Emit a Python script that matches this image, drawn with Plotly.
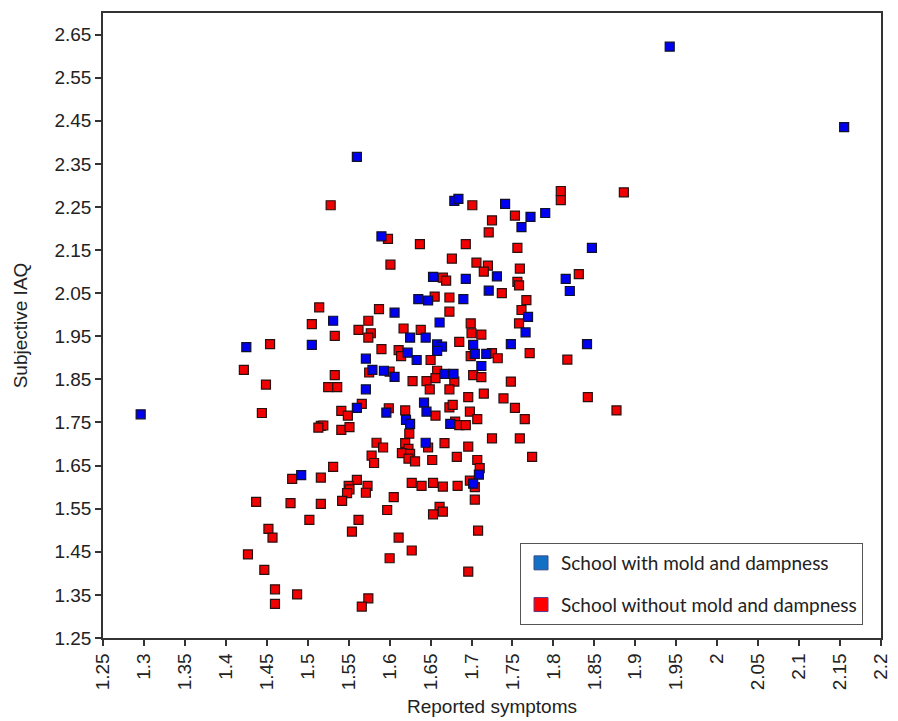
import plotly.graph_objects as go

# School with mold and dampness (blue)
mold_x = [1.942, 2.155, 1.790, 1.847, 1.815, 1.820, 1.841,
          1.560, 1.679, 1.684, 1.741, 1.772, 1.761, 1.590, 1.653, 1.693, 1.731, 1.721, 1.635, 1.647, 1.690,
          1.606, 1.769, 1.531, 1.661, 1.625, 1.644, 1.766, 1.505, 1.658, 1.664, 1.658, 1.702, 1.748, 1.622,
          1.633, 1.704, 1.718, 1.571, 1.712, 1.579, 1.593, 1.606, 1.667, 1.678, 1.571, 1.560, 1.596, 1.642,
          1.645, 1.620, 1.625, 1.674, 1.644,
          1.425, 1.296, 1.492, 1.709, 1.702]
mold_y = [2.622, 2.435, 2.236, 2.155, 2.083, 2.055, 1.932,
          2.366, 2.264, 2.269, 2.257, 2.227, 2.203, 2.182, 2.088, 2.083, 2.089, 2.056, 2.036, 2.033, 2.036,
          2.005, 1.995, 1.986, 1.982, 1.947, 1.947, 1.959, 1.930, 1.931, 1.926, 1.916, 1.930, 1.932, 1.912,
          1.895, 1.909, 1.909, 1.898, 1.881, 1.872, 1.870, 1.856, 1.863, 1.863, 1.827, 1.784, 1.773, 1.796,
          1.775, 1.756, 1.747, 1.747, 1.703,
          1.925, 1.769, 1.628, 1.629, 1.608]

# School without mold and dampness (red)
nomold_x = [1.809, 1.809, 1.886, 1.831, 1.817, 1.842, 1.877,
            1.528, 1.701, 1.725, 1.753, 1.721, 1.598, 1.637, 1.693, 1.756, 1.601, 1.676, 1.706, 1.720, 1.715,
            1.759, 1.665, 1.669, 1.756, 1.758, 1.737, 1.767, 1.655, 1.673,
            1.514, 1.587, 1.673, 1.761, 1.505, 1.574, 1.699, 1.758, 1.562, 1.577, 1.574, 1.617, 1.638, 1.533,
            1.700, 1.712, 1.685, 1.590, 1.611, 1.614, 1.650, 1.699, 1.725, 1.732, 1.771,
            1.533, 1.575, 1.600, 1.658, 1.656, 1.645, 1.628, 1.679, 1.702, 1.712, 1.748, 1.525, 1.536, 1.649,
            1.673, 1.696, 1.715, 1.739,
            1.566, 1.541, 1.549, 1.599, 1.619, 1.656, 1.673, 1.677, 1.698, 1.707, 1.753, 1.765, 1.516, 1.519,
            1.513, 1.541, 1.551, 1.680, 1.685, 1.693, 1.624, 1.584, 1.592, 1.619, 1.623, 1.647, 1.667, 1.696,
            1.725, 1.759,
            1.578, 1.615, 1.625, 1.623, 1.631, 1.652, 1.682, 1.707, 1.774,
            1.454, 1.422, 1.449, 1.444,
            1.581, 1.531, 1.516, 1.481, 1.710, 1.698, 1.704, 1.704, 1.708, 1.696, 1.560, 1.550, 1.551, 1.548,
            1.542, 1.573, 1.571, 1.605, 1.597, 1.627, 1.639, 1.653, 1.665, 1.683, 1.661, 1.653, 1.665, 1.516,
            1.502, 1.562, 1.554, 1.611, 1.627, 1.600, 1.574, 1.566,
            1.437, 1.479, 1.452, 1.457, 1.427, 1.447, 1.460, 1.487, 1.460]
nomold_y = [2.287, 2.266, 2.284, 2.094, 1.896, 1.809, 1.778,
            2.254, 2.254, 2.219, 2.230, 2.191, 2.176, 2.164, 2.164, 2.155, 2.116, 2.130, 2.121, 2.114, 2.100,
            2.107, 2.086, 2.079, 2.076, 2.068, 2.050, 2.034, 2.042, 2.040,
            2.017, 2.013, 2.007, 2.011, 1.978, 1.986, 1.980, 1.980, 1.965, 1.957, 1.947, 1.968, 1.965, 1.951,
            1.957, 1.954, 1.937, 1.920, 1.918, 1.904, 1.895, 1.904, 1.911, 1.899, 1.911,
            1.860, 1.866, 1.868, 1.870, 1.853, 1.846, 1.846, 1.845, 1.860, 1.855, 1.845, 1.832, 1.832, 1.827,
            1.827, 1.809, 1.817, 1.806,
            1.793, 1.777, 1.766, 1.783, 1.778, 1.766, 1.785, 1.791, 1.775, 1.758, 1.784, 1.758, 1.742, 1.743,
            1.738, 1.733, 1.739, 1.752, 1.744, 1.744, 1.724, 1.703, 1.692, 1.702, 1.689, 1.692, 1.702, 1.694,
            1.713, 1.713,
            1.673, 1.679, 1.677, 1.666, 1.660, 1.663, 1.670, 1.663, 1.670,
            1.932, 1.872, 1.838, 1.772,
            1.656, 1.647, 1.622, 1.619, 1.644, 1.615, 1.600, 1.571, 1.499, 1.404, 1.617, 1.603, 1.595, 1.586,
            1.568, 1.603, 1.587, 1.577, 1.547, 1.610, 1.603, 1.610, 1.601, 1.603, 1.554, 1.537, 1.543, 1.561,
            1.524, 1.524, 1.497, 1.483, 1.453, 1.435, 1.342, 1.323,
            1.566, 1.563, 1.503, 1.483, 1.444, 1.408, 1.363, 1.351, 1.329]

x_tickvals = [1.25, 1.3, 1.35, 1.4, 1.45, 1.5, 1.55, 1.6, 1.65, 1.7, 1.75, 1.8, 1.85, 1.9, 1.95,
              2.0, 2.05, 2.1, 2.15, 2.2]
x_ticktext = ["1.25", "1.3", "1.35", "1.4", "1.45", "1.5", "1.55", "1.6", "1.65", "1.7", "1.75", "1.8",
              "1.85", "1.9", "1.95", "2", "2.05", "2.1", "2.15", "2.2"]
y_tickvals = [1.25, 1.35, 1.45, 1.55, 1.65, 1.75, 1.85, 1.95, 2.05, 2.15, 2.25, 2.35, 2.45, 2.55, 2.65]
y_ticktext = ["1.25", "1.35", "1.45", "1.55", "1.65", "1.75", "1.85", "1.95", "2.05", "2.15", "2.25",
              "2.35", "2.45", "2.55", "2.65"]

legend_names = ["School with mold and dampness", "School without mold and dampness"]

fig = go.Figure()

# legend-only entries
fig.add_trace(go.Scatter(x=[None], y=[None], mode="markers", name=legend_names[0], legendgroup="a",
                         marker=dict(symbol="square", size=14, color="#1271C4",
                                     line=dict(color="#3a4a8a", width=1))))
fig.add_trace(go.Scatter(x=[None], y=[None], mode="markers", name=legend_names[1], legendgroup="b",
                         marker=dict(symbol="square", size=14, color="#FF0000",
                                     line=dict(color="#5a3a8a", width=1))))

fig.add_trace(go.Scatter(x=nomold_x, y=nomold_y, mode="markers", showlegend=False,
                         marker=dict(symbol="square", size=9, color="#F00000",
                                     line=dict(color="#2a1010", width=1.2))))
fig.add_trace(go.Scatter(x=mold_x, y=mold_y, mode="markers", showlegend=False,
                         marker=dict(symbol="square", size=9, color="#0000F0",
                                     line=dict(color="#10102a", width=1.2))))

axis_font = dict(family='"Liberation Sans", Arial, sans-serif', size=19, color="#222222")

fig.update_layout(
    width=898, height=721,
    margin=dict(l=103, r=17, t=13, b=83),
    paper_bgcolor="white", plot_bgcolor="white",
    showlegend=True,
    legend=dict(x=0.536, y=0.152, xanchor="left", yanchor="top",
                bgcolor="white", bordercolor="#555555", borderwidth=1,
                font=dict(family="Lato, sans-serif", size=19, color="#222222"),
                tracegroupgap=14, itemsizing="trace"),
    xaxis=dict(range=[1.25, 2.2], tickmode="array", tickvals=x_tickvals, ticktext=x_ticktext,
               tickangle=-90, ticks="outside", ticklen=6, tickcolor="#333333", tickwidth=1.5,
               showline=True, linecolor="#333333", linewidth=1.5, mirror=True,
               showgrid=False, zeroline=False, tickfont=axis_font, automargin=False,
               title=dict(text="Reported symptoms", font=axis_font, standoff=10)),
    yaxis=dict(range=[1.25, 2.70], tickmode="array", tickvals=y_tickvals, ticktext=y_ticktext,
               ticks="outside", ticklen=6, tickcolor="#333333", tickwidth=1.5,
               showline=True, linecolor="#333333", linewidth=1.5, mirror=True,
               showgrid=False, zeroline=False, tickfont=axis_font, automargin=False,
               title=dict(text="Subjective IAQ", font=axis_font, standoff=22)),
)

fig.write_html("out.html", config={"displayModeBar": False},
               post_script="document.body.style.margin='0px';")
